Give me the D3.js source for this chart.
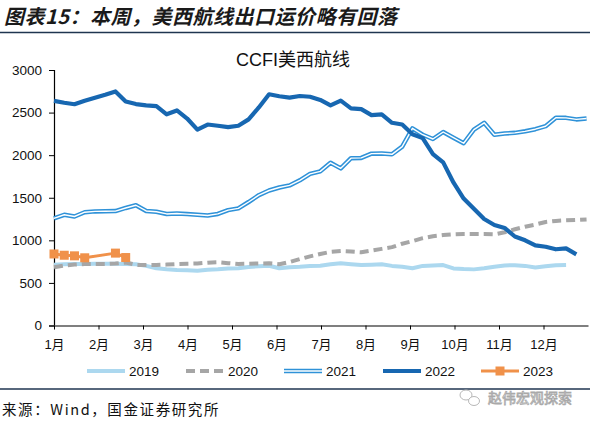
<!DOCTYPE html>
<html>
<head>
<meta charset="utf-8">
<script src="https://cdn.jsdelivr.net/npm/d3@7"></script>
<style>
  body { margin: 0; background: #fff; }
  svg { display: block; }
</style>
</head>
<body>
<svg id="chart" width="590" height="423"></svg>
<script>
"use strict";

// chart text
const mainTitle = "图表15：本周，美西航线出口运价略有回落";
const chartTitle = "CCFI美西航线";
const sourceText = "来源：Wind，国金证券研究所";
const watermark = "赵伟宏观探索";

// x axis: months, data is weekly (index = week of year)
const monthLabels = ["1月", "2月", "3月", "4月", "5月", "6月", "7月", "8月", "9月", "10月", "11月", "12月"];
const yTicks = [0, 500, 1000, 1500, 2000, 2500, 3000];

// weekly index values (null = no print that week)
const v2019 = [712, 718, 722, 722, 724, 725, 725, 722, 718, 700, 672, 660, 651, 648, 642, 655,
  660, 668, 671, 688, 695, 702, 672, 685, 690, 698, 702, 718, 730, 720, 710, 714, 718, 700,
  690, 672, 700, 705, 710, 670, 662, 659, 672, 690, 705, 708, 700, 680, 695, 708, 710];
const v2020 = [683, 705, 715, 722, 722, 722, 728, 740, 712, 710, 710, 715, 722, 726, 728, 738,
  742, 732, 722, 725, 728, 730, 720, 745, 780, 812, 840, 865, 874, 868, 860, 880, 900, 920,
  960, 990, 1025, 1048, 1062, 1070, 1074, 1074, 1074, 1070, 1095, 1130, 1160, 1185, 1215,
  1228, 1235, 1240, 1246];
const v2021 = [1258, 1300, 1280, 1330, 1340, 1342, 1343, 1380, 1412, 1345, 1335, 1310, 1315,
  1308, 1300, 1292, 1310, 1355, 1375, 1450, 1530, 1585, 1620, 1645, 1705, 1780, 1810, 1910,
  1845, 1965, 1968, 2018, 2020, 2010, 2100, 2315, 2240, 2190, 2272, 2205, 2140, 2300, 2380,
  2240, 2255, 2262, 2280, 2305, 2340, 2440, 2438, 2420, 2430];
const v2022 = [2637, 2615, 2598, 2640, null, 2710, 2748, 2630, 2600, 2585, 2575, 2480, 2525,
  2430, 2300, 2360, 2345, 2330, 2345, 2420, 2560, 2715, 2692, 2675, 2695, 2686, 2648, 2585,
  2640, 2550, 2540, 2470, 2478, 2380, 2360, 2245, 2200, 2012, 1915, 1680, 1490, 1370, 1250,
  1180, 1145, 1045, 1000, 940, 925, 895, 905, 835];
const v2023 = [840, 825, 818, 795, null, null, 850, 798];

const seriesNames = ["2019", "2020", "2021", "2022", "2023"];
const seriesValues = [v2019, v2020, v2021, v2022, v2023];

const svg = d3.select("#chart");
const font = "Arial, 'Liberation Sans', 'Noto Sans CJK SC', sans-serif";

// plot area
const x = d3.scaleLinear().domain([0, 12]).range([54, 588]);
const y = d3.scaleLinear().domain([0, 3000]).range([325.5, 70]);
const weekToMonth = w => w * 12 / 52.14;

// header
svg.append("text")
  .attr("x", 4).attr("y", 24)
  .attr("font-family", "'Noto Sans CJK SC', sans-serif")
  .attr("font-size", 20).attr("font-weight", "bold").attr("font-style", "italic")
  .attr("letter-spacing", 0.5)
  .attr("fill", "#1a1a1a")
  .text(mainTitle);
svg.append("line")
  .attr("x1", 0).attr("x2", 590).attr("y1", 32.5).attr("y2", 32.5)
  .attr("stroke", "#1f3550").attr("stroke-width", 1.5);

svg.append("text")
  .attr("x", 293).attr("y", 66)
  .attr("text-anchor", "middle")
  .attr("font-family", font).attr("font-size", 18).attr("fill", "#111")
  .text(chartTitle);

// y axis
const yAxis = svg.append("g").attr("transform", "translate(54,0)")
  .call(d3.axisLeft(y).tickValues(yTicks).tickSize(5).tickPadding(7).tickFormat(d3.format("d")));
yAxis.select(".domain").attr("stroke", "#000").attr("stroke-width", 1.2);
yAxis.selectAll(".tick line").attr("stroke", "#000");
yAxis.selectAll("text").attr("font-family", font).attr("font-size", 13.5).attr("fill", "#111");

// x axis
const xAxis = svg.append("g").attr("transform", "translate(0," + y(0) + ")")
  .call(d3.axisBottom(x).tickValues(d3.range(0, 12)).tickSize(4).tickSizeOuter(0)
    .tickPadding(10).tickFormat(i => monthLabels[i]));
xAxis.select(".domain").attr("stroke", "#7f7f7f").attr("stroke-width", 2);
xAxis.selectAll(".tick line").attr("stroke", "#000");
xAxis.selectAll("text").attr("font-family", font).attr("font-size", 13).attr("fill", "#111");

// series styles
const styles = {
  "2019": { color: "#acd8ef", width: 4 },
  "2020": { color: "#a6a6a6", width: 4, dash: "9,5" },
  "2021": { color: "#2f92d8", width: 4.5, inner: "#fff", innerWidth: 1.4 },
  "2022": { color: "#1767b1", width: 4.2 },
  "2023": { color: "#f0914a", width: 3, marker: 9 }
};

const line = d3.line()
  .x(d => x(weekToMonth(d.w)))
  .y(d => y(d.v));

const toPoints = vals => vals.map((v, w) => ({ w: w, v: v })).filter(d => d.v !== null);

const plot = svg.append("g");
seriesNames.forEach((name, k) => {
  const st = styles[name];
  const pts = toPoints(seriesValues[k]);
  plot.append("path").datum(pts)
    .attr("d", line)
    .attr("fill", "none")
    .attr("stroke", st.color)
    .attr("stroke-width", st.width)
    .attr("stroke-linejoin", "round")
    .attr("stroke-dasharray", st.dash || null);
  if (st.inner) {
    plot.append("path").datum(pts)
      .attr("d", line)
      .attr("fill", "none")
      .attr("stroke", st.inner)
      .attr("stroke-width", st.innerWidth)
      .attr("stroke-linejoin", "round");
  }
  if (st.marker) {
    plot.selectAll(".m" + name).data(pts).enter().append("rect")
      .attr("x", d => x(weekToMonth(d.w)) - st.marker / 2)
      .attr("y", d => y(d.v) - st.marker / 2)
      .attr("width", st.marker).attr("height", st.marker)
      .attr("fill", st.color);
  }
});

// legend
const legendX = [87, 186, 284, 383, 481];
const legend = svg.append("g").attr("transform", "translate(0,371)");
seriesNames.forEach((name, k) => {
  const st = styles[name];
  const g = legend.append("g").attr("transform", "translate(" + legendX[k] + ",0)");
  g.append("line").attr("x1", 0).attr("x2", 38).attr("y1", 0).attr("y2", 0)
    .attr("stroke", st.color).attr("stroke-width", st.width)
    .attr("stroke-dasharray", st.dash || null);
  if (st.inner) {
    g.append("line").attr("x1", 0).attr("x2", 38).attr("y1", 0).attr("y2", 0)
      .attr("stroke", st.inner).attr("stroke-width", st.innerWidth);
  }
  if (st.marker) {
    g.append("rect").attr("x", 19 - st.marker / 2).attr("y", -st.marker / 2)
      .attr("width", st.marker).attr("height", st.marker).attr("fill", st.color);
  }
  g.append("text").attr("x", 42).attr("y", 5)
    .attr("font-family", font).attr("font-size", 13.5).attr("fill", "#111")
    .text(name);
});

// footer
svg.append("line")
  .attr("x1", 0).attr("x2", 590).attr("y1", 389).attr("y2", 389)
  .attr("stroke", "#1f3550").attr("stroke-width", 1.5);
svg.append("text")
  .attr("x", 2).attr("y", 415)
  .attr("font-family", "'Noto Sans CJK SC', 'DejaVu Sans Mono', monospace")
  .attr("font-size", 14.5).attr("letter-spacing", 1.6).attr("fill", "#111")
  .text(sourceText);

// watermark
const wm = svg.append("g").attr("fill", "none").attr("stroke", "#b8b8b8").attr("stroke-width", 1);
wm.append("ellipse").attr("cx", 466).attr("cy", 395).attr("rx", 6).attr("ry", 5);
wm.append("ellipse").attr("cx", 474).attr("cy", 401).attr("rx", 5.5).attr("ry", 4.5).attr("fill", "#fff");
svg.append("text")
  .attr("x", 488).attr("y", 403)
  .attr("font-family", "'Noto Sans CJK SC', sans-serif")
  .attr("font-size", 14).attr("fill", "#fff")
  .attr("stroke", "#a9a9a9").attr("stroke-width", 0.8)
  .text(watermark);
</script>
</body>
</html>
